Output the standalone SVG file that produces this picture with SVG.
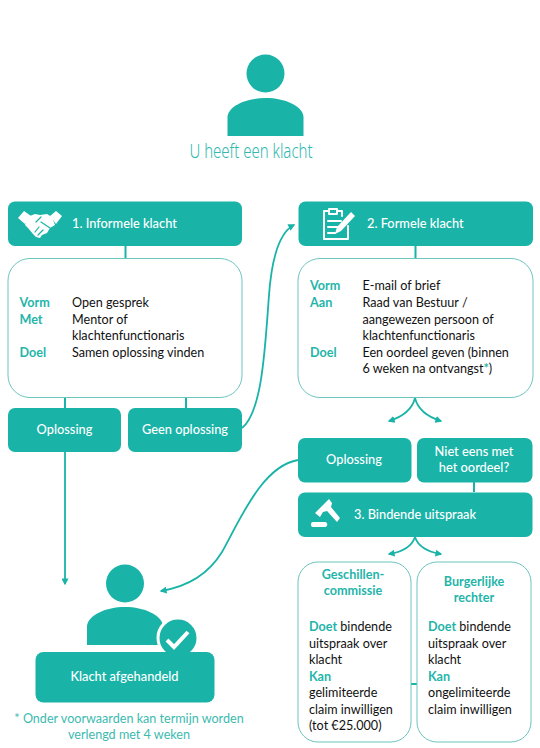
<svg xmlns="http://www.w3.org/2000/svg" width="540" height="748" viewBox="0 0 540 748">
<style>
text{font-family:Lato,"Noto Sans",sans-serif;font-size:12.6px;fill:#111}
.h{fill:#fff;font-size:12.8px;font-weight:500}
.c{text-anchor:middle}
.k{fill:#1fb5aa;font-weight:700}
.fill{fill:#1ab3a8}
.card{fill:#fff;stroke:#6cc6bf;stroke-width:1}
.ln{fill:none;stroke:#1ab3a8;stroke-width:2}
.ar{fill:none;stroke:#1ab3a8;stroke-width:1.8}
.ic{fill:none;stroke:#fff;stroke-width:2;stroke-linejoin:round;stroke-linecap:round}
.cut{fill:none;stroke:#1ab3a8;stroke-width:1.2;stroke-linecap:round}
.note{fill:#3dbab0}
</style>
<defs>
<marker id="a" viewBox="0 0 10 10" refX="8" refY="5" markerWidth="7" markerHeight="7" markerUnits="userSpaceOnUse" orient="auto"><path d="M0 0L10 5L0 10Z" fill="#1ab3a8"/></marker>
</defs>
<rect width="540" height="748" fill="#fff"/>
<g id="connectors">
<path class="ln" d="M125.500 246V258M65 398V408M186 398V408M415.500 246V258M474 482V492M411 684H417"/>
<path class="ar" marker-end="url(#a)" d="M65 452V584"/>
<path class="ar" marker-end="url(#a)" d="M242 428C262 412 265 350 269 295C272 255 280 232 294 225"/>
<path class="ar" marker-end="url(#a)" d="M298 460C262 466 240 520 222 552C208 575 185 587 161 591"/>
<path class="ar" marker-end="url(#a)" d="M415 398C412 410 402 417 389 421"/>
<path class="ar" marker-end="url(#a)" d="M415 398C418 410 428 417 441 421"/>
<path class="ar" marker-end="url(#a)" d="M415 537C412 546 402 552 389 554"/>
<path class="ar" marker-end="url(#a)" d="M415 537C418 546 428 552 441 554"/>
</g>
<g id="start">
<circle class="fill" cx="265.500" cy="73.500" r="19"/>
<path class="fill" d="M227.500 136V117C228 106 246 98 265.500 98S303 106 303.500 117V136Z"/>
<text class="c" x="251" y="158" style="font-family:'Noto Sans',sans-serif;font-size:20px;font-weight:300;fill:#2fb8ae" textLength="123" lengthAdjust="spacingAndGlyphs">U heeft een klacht</text>
</g>
<g id="informal-header">
<rect class="fill" x="8" y="201.500" width="234" height="44.500" rx="7"/>
<path fill="#fff" d="M18 218L24 211L31 216L25 224ZM62 216L56 211L50 216L56 224Z"/>
<path fill="#fff" d="M27 217L35 214L40 215L47 214L52 217L55 225L50 228L47 233L42 235L40 238L36 237L33 234L28 228L25 225Z"/>
<path class="cut" d="M36 222L41 217M41 222L50 228M35 232L39 227M38 235L43 230"/>
<text class="h" x="72" y="227.500">1. Informele klacht</text>
</g>
<g id="informal-body">
<rect class="card" x="8" y="258.500" width="234" height="139" rx="22"/>
<text class="k" x="19.500" y="307">Vorm</text><text x="72" y="307">Open gesprek</text>
<text class="k" x="19.500" y="323.500">Met</text><text x="72" y="323.500">Mentor of</text>
<text x="72" y="340">klachtenfunctionaris</text>
<text class="k" x="19.500" y="357">Doel</text><text x="72" y="357">Samen oplossing vinden</text>
</g>
<g id="informal-solved">
<rect class="fill" x="8" y="408" width="113" height="44" rx="7"/>
<text class="h c" x="64.500" y="434">Oplossing</text>
</g>
<g id="informal-unsolved">
<rect class="fill" x="128" y="408" width="114" height="44" rx="7"/>
<text class="h c" x="185" y="434">Geen oplossing</text>
</g>
<g id="formal-header">
<rect class="fill" x="298.500" y="201.500" width="234.500" height="44.500" rx="7"/>
<path class="ic" d="M329 211H324V239H348V226M337 211H342V216M329 209H337V214H329ZM328 221H341M328 227H338M328 233H335"/>
<path fill="#fff" d="M335 234L337 227L351 212L355 216L341 231Z"/>
<text class="h" x="367" y="227.500">2. Formele klacht</text>
</g>
<g id="formal-body">
<rect class="card" x="298" y="258.500" width="235" height="139" rx="22"/>
<text class="k" x="310" y="290">Vorm</text><text x="362.500" y="290">E-mail of brief</text>
<text class="k" x="310" y="307">Aan</text><text x="362.500" y="307">Raad van Bestuur /</text>
<text x="362.500" y="323.500">aangewezen persoon of</text>
<text x="362.500" y="340">klachtenfunctionaris</text>
<text class="k" x="310" y="356.500">Doel</text><text x="362.500" y="356.500">Een oordeel geven (binnen</text>
<text x="362.500" y="373">6 weken na ontvangst<tspan class="k">*</tspan>)</text>
</g>
<g id="formal-solved">
<rect class="fill" x="298" y="438" width="113.500" height="44.500" rx="7"/>
<text class="h c" x="354" y="464">Oplossing</text>
</g>
<g id="formal-disagree">
<rect class="fill" x="417" y="438" width="115.500" height="44.500" rx="7"/>
<text class="h c" x="474" y="456">Niet eens met</text>
<text class="h c" x="474" y="472">het oordeel?</text>
</g>
<g id="binding-header">
<rect class="fill" x="298" y="492.500" width="234.500" height="44.500" rx="7"/>
<path fill="#fff" d="M315 513L329 499L332 503L331 507L340 518L337 522L327 511L323 512L320 517ZM311 524C311 522 313 522 314 522H325C328 522 328 527 325 527H313C311 527 311 525 311 524Z"/>
<text class="h" x="354" y="519">3. Bindende uitspraak</text>
</g>
<g id="commission">
<rect class="card" x="298" y="562" width="113" height="180" rx="20"/>
<text class="k c" x="353" y="579">Geschillen-</text>
<text class="k c" x="353" y="595">commissie</text>
<text x="309" y="631"><tspan class="k">Doet</tspan> bindende</text>
<text x="309" y="647.500">uitspraak over</text>
<text x="309" y="664">klacht</text>
<text class="k" x="309" y="680.500">Kan</text>
<text x="309" y="697">gelimiteerde</text>
<text x="309" y="713.500">claim inwilligen</text>
<text x="309" y="730">(tot €25.000)</text>
</g>
<g id="court">
<rect class="card" x="417" y="562" width="114" height="180" rx="20"/>
<text class="k c" x="474" y="586">Burgerlijke</text>
<text class="k c" x="474" y="602">rechter</text>
<text x="428" y="631"><tspan class="k">Doet</tspan> bindende</text>
<text x="428" y="647.500">uitspraak over</text>
<text x="428" y="664">klacht</text>
<text class="k" x="428" y="680.500">Kan</text>
<text x="428" y="697">ongelimiteerde</text>
<text x="428" y="713.500">claim inwilligen</text>
</g>
<g id="resolved">
<circle class="fill" cx="125" cy="583.500" r="19"/>
<path class="fill" d="M87 645V626C88 615 106 607 125 607S162 615 163 626V645Z"/>
<circle class="fill" cx="178" cy="638" r="20" stroke="#fff" stroke-width="3"/>
<rect class="fill" x="35.500" y="652" width="179" height="50.500" rx="8"/>
<path d="M167 640L174 647L188 632" fill="none" stroke="#fff" stroke-width="4"/>
<text class="h c" x="124.500" y="681">Klacht afgehandeld</text>
</g>
<g id="footnote">
<text class="c note" x="129" y="723">* Onder voorwaarden kan termijn worden</text>
<text class="c note" x="129" y="739">verlengd met 4 weken</text>
</g>
</svg>
